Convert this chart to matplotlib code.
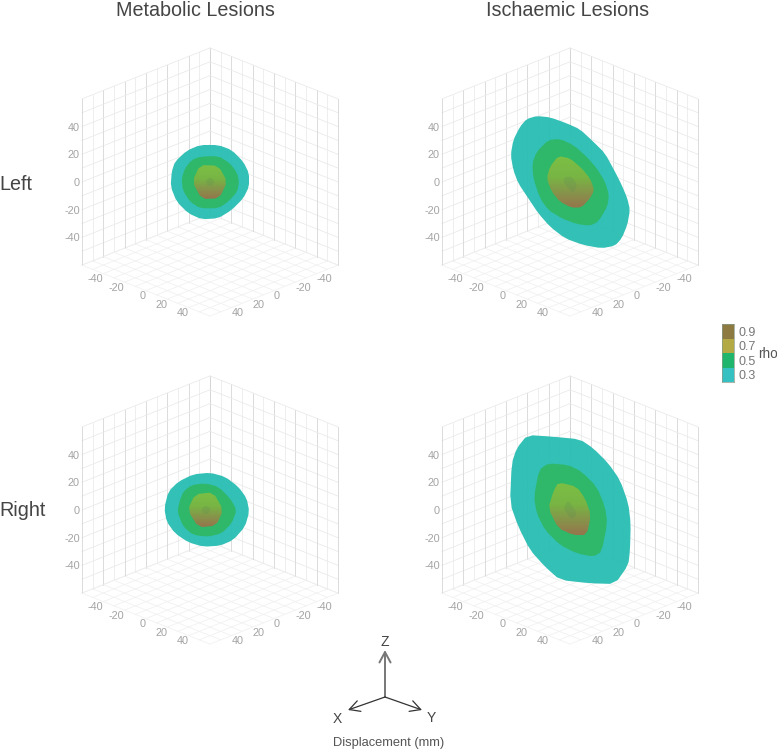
import matplotlib
matplotlib.use('Agg')
import matplotlib.pyplot as plt
import numpy as np
from matplotlib.colors import LinearSegmentedColormap
from matplotlib.patches import Polygon

plt.rcParams['font.family'] = ['Liberation Sans', 'DejaVu Sans']

W, H = 777, 751

# shell outlines, in view plane units
met_left_outer = [(-10,37),(8.3,37),(21.7,32),(33.3,20.3),(39,8.7),(39,-4.7),(33.3,-16.3),(21.7,-28),(8.3,-36.3),(-8.3,-37.3),(-21.7,-31.3),(-33.3,-19.7),(-39.3,-4.7),(-38.3,10.3),(-35,20.3),(-23.3,31.3)]
met_left_mid = [(-10,25.3),(8.3,26),(20,18.7),(27.3,8.7),(29,0.3),(27.3,-9.7),(18.3,-19.7),(8.3,-26.3),(-10,-26.3),(-20,-19.7),(-27.3,-8),(-28.3,3.7),(-25,13.7),(-18.3,22)]
met_left_inner = [(-10,17),(8.3,16.3),(17.3,0.3),(9.3,-16.3),(-8.3,-17),(-17.7,0.3)]
met_left_core = [(-4.5,0),(-2,4),(2,4),(4.5,0),(2,-4),(-2,-4)]

isc_left_outer = [(-33.3,66),(-20,64.7),(-3.3,58.7),(10,52.7),(23.3,40.3),(35,28.7),(45,10.3),(51.7,-3),(57.3,-16.3),(60,-28),(57.3,-43),(51.7,-56.3),(45,-63.7),(31.7,-66.3),(13.3,-63),(-5,-56.3),(-20,-44.7),(-31.7,-31.3),(-41.7,-16.3),(-51.7,-1.3),(-56.7,12),(-59.3,27),(-56.7,42),(-50,55.3),(-43.3,63)]
isc_left_mid = [(-21.7,42),(-10,43),(3.3,37),(16.7,25.3),(26.7,13.7),(35,0.3),(39,-13),(37.3,-24.7),(28.3,-39.7),(20,-43.7),(6.7,-42),(-8.3,-36.3),(-21.7,-28),(-30,-16.3),(-36.7,3.7),(-37.7,18.7),(-33.3,30.3)]
isc_left_inner = [(-11.7,26),(0,23.7),(11.7,13.7),(20,3.7),(24.3,-8),(20,-16.3),(11.7,-25.3),(1.7,-25.7),(-10,-19.7),(-18.3,-9.7),(-23.3,3.7),(-20,15.3)]
isc_left_core = [(-5,5.3),(1.7,5.3),(7.3,-3),(3.3,-11.3),(-1.7,-6.3),(-6.7,0.3)]

met_right_outer = [(-16.7,35.7),(0,37.3),(15,33.3),(28.3,23.3),(36.7,11.7),(39.3,-1.7),(35,-16.7),(23.3,-30),(10,-35.7),(-6.7,-36.7),(-21.7,-32.3),(-35,-23.3),(-43.3,-11.7),(-45.7,1.7),(-41.7,18.3),(-31.7,28.3)]
met_right_mid = [(-18.3,25),(-5,26.7),(8.3,23.3),(20,11.7),(26.7,0),(21.7,-13.3),(11.7,-23.3),(-1.7,-26.7),(-16.7,-25),(-26.7,-16.7),(-32.7,-1.7),(-30,10),(-26.7,18.3)]
met_right_inner = [(-15,15.7),(3.3,17.7),(13.3,0),(6,-15.7),(-11.7,-17.3),(-22.3,0)]
met_right_core = [(-8.5,0),(-6,4),(-2,4),(0.5,0),(-2,-4),(-6,-4)]

isc_right_outer = [(-42.7,75),(-16.7,73.3),(10,70.7),(23.3,61.7),(38.3,46.7),(50,30),(58.3,6.7),(60.7,-13.3),(60,-40),(58.3,-55),(45,-74),(20,-73.3),(-10,-70),(-25,-56.7),(-40,-40),(-51.7,-16.7),(-60,6.7),(-58.3,46.7),(-53.3,61.7)]
isc_right_mid = [(-21.7,46.7),(-1.7,45),(11.7,38.3),(26.7,23.3),(35,3.3),(37.3,-13.3),(31.7,-41.7),(23.3,-46.7),(6.7,-43.3),(-10,-35),(-25,-20),(-33.3,-3.3),(-36,13.3),(-31,40)]
isc_right_inner = [(-11.7,27.7),(6.7,23.3),(15,11.7),(21,-5),(16.7,-25),(3.3,-25),(-11.7,-18.3),(-21.7,1.7),(-16.7,18.3)]
isc_right_core = [(-1.7,10),(7.3,-3.3),(1.7,-10),(-6.7,1.7)]

tick_values = [-40, -20, 0, 20, 40]
grid_values = list(range(-60, 61, 10))
rho_levels = [0.3, 0.5, 0.7, 0.9]
rho_colors = ['#35c0c2', '#20b56c', '#b3aa45', '#8c7a40']

inner_cmap = LinearSegmentedColormap.from_list(
    'inner', [(0, '#96754c'), (0.3, '#86954a'), (0.6, '#78b544'), (1, '#7cbf44')])


def project(x, y, z):
    # oblique view used by all four panels
    h = (np.asarray(y) - np.asarray(x)) * 1.067
    v = -(np.asarray(x) + np.asarray(y)) * 0.425 + np.asarray(z) * 1.385
    return h, v


def round_corners(pts):
    # one pass of corner cutting so the outlines are not angular
    pts = np.array(pts)
    nxt = np.roll(pts, -1, axis=0)
    out = np.empty((len(pts) * 2, 2))
    out[0::2] = 0.8 * pts + 0.2 * nxt
    out[1::2] = 0.2 * pts + 0.8 * nxt
    return out


def grid_colour(val):
    return '#d6d6d6' if val % 20 == 0 else '#ebebeb'


def draw_box(ax):
    for g in grid_values:
        # left wall (y=-60)
        ax.plot(*project([g, g], [-60, -60], [-60, 60]), c=grid_colour(g), lw=0.6, zorder=1)
        ax.plot(*project([-60, 60], [-60, -60], [g, g]), c='#e9e9e9', lw=0.55, zorder=1)
        # right wall (x=-60)
        ax.plot(*project([-60, -60], [g, g], [-60, 60]), c=grid_colour(g), lw=0.6, zorder=1)
        ax.plot(*project([-60, -60], [-60, 60], [g, g]), c='#e9e9e9', lw=0.55, zorder=1)
        # floor
        ax.plot(*project([g, g], [-60, 60], [-60, -60]), c='#f0f0f0', lw=0.55, zorder=1)
        ax.plot(*project([-60, 60], [g, g], [-60, -60]), c='#f0f0f0', lw=0.55, zorder=1)
    for t in tick_values:
        lab = str(t)
        h, v = project(60, -60, t)
        ax.text(h - 2, v - 1, lab, ha='right', va='center', fontsize=7.8, color='#a3a3a3')
        h, v = project(60, t, -60)
        ax.text(h, v - 5.5, lab, ha='right', va='center', fontsize=7.8, color='#a3a3a3')
        h, v = project(t, 60, -60)
        ax.text(h, v - 5.5, lab, ha='left', va='center', fontsize=7.8, color='#a3a3a3')


def draw_shells(ax, outer, mid, inner, core):
    ax.add_patch(Polygon(round_corners(outer), fc='#28bdb2', ec='none', alpha=0.95, zorder=2))
    ax.add_patch(Polygon(round_corners(mid), fc='#2fb866', ec='none', alpha=0.96, zorder=3))
    rounded = round_corners(inner)
    clip = Polygon(rounded, closed=True, transform=ax.transData)
    im = ax.imshow(np.linspace(0, 1, 50).reshape(-1, 1), cmap=inner_cmap, origin='lower', aspect='auto',
                   extent=(rounded[:, 0].min(), rounded[:, 0].max(), rounded[:, 1].min(), rounded[:, 1].max()),
                   zorder=4)
    im.set_clip_path(clip)
    ax.add_patch(Polygon(round_corners(core), fc='#5c8a55', ec='none', alpha=0.22, zorder=5))
    ax.set_xlim(-140, 140)
    ax.set_ylim(-140, 140)


fig = plt.figure(figsize=(W / 100, H / 100), dpi=100)

panels = [
    (210, 182, met_left_outer, met_left_mid, met_left_inner, met_left_core),
    (570, 182, isc_left_outer, isc_left_mid, isc_left_inner, isc_left_core),
    (210, 510, met_right_outer, met_right_mid, met_right_inner, met_right_core),
    (570, 510, isc_right_outer, isc_right_mid, isc_right_inner, isc_right_core),
]
for ox, oy, outer, mid, inner, core in panels:
    ax = fig.add_axes([(ox - 140) / W, 1 - (oy + 140) / H, 280 / W, 280 / H])
    ax.axis('off')
    draw_box(ax)
    draw_shells(ax, outer, mid, inner, core)

# overlay in picture pixels for headings and the axis triad
over = fig.add_axes([0, 0, 1, 1])
over.set_xlim(0, W)
over.set_ylim(H, 0)
over.axis('off')
over.patch.set_alpha(0)

title_col = '#454545'
over.text(195.5, 16.5, 'Metabolic Lesions', ha='center', va='baseline', fontsize=14.2, color=title_col)
over.text(568, 16.5, 'Ischaemic Lesions', ha='center', va='baseline', fontsize=14.2, color=title_col)
over.text(-1, 190, 'Left', ha='left', va='baseline', fontsize=14.2, color=title_col)
over.text(-1, 516, 'Right', ha='left', va='baseline', fontsize=14.2, color=title_col)

for tip, width, col in (((385, 650), 1.4, '#777777'), ((348, 710), 0.9, '#333333'), ((422, 710), 0.9, '#333333')):
    over.annotate('', xy=tip, xytext=(385, 697),
                  arrowprops=dict(arrowstyle='->,head_length=0.75,head_width=0.4', color=col, lw=width,
                                  shrinkA=0, shrinkB=0))
over.text(385, 642, 'Z', ha='center', va='center', fontsize=10, color='#444444')
over.text(337, 719, 'X', ha='center', va='center', fontsize=10, color='#444444')
over.text(431, 718, 'Y', ha='center', va='center', fontsize=10, color='#444444')
over.text(389, 743, 'Displacement (mm)', ha='center', va='center', fontsize=9.3, color='#555555')

# rho colour key
key = fig.add_axes([722 / W, 1 - 382 / H, 12 / W, 58 / H])
key.bar([0] * len(rho_levels), [1] * len(rho_levels), bottom=range(len(rho_levels)), width=1, color=rho_colors)
key.set_xlim(-0.5, 0.5)
key.set_ylim(0, len(rho_levels))
key.set_xticks([])
key.set_yticks([i + 0.5 for i in range(len(rho_levels))], [str(r) for r in rho_levels])
key.yaxis.tick_right()
key.tick_params(axis='y', length=0, pad=3, labelsize=9, labelcolor='#777777')
for s in key.spines.values():
    s.set_edgecolor('#8a9a8a')
    s.set_linewidth(0.5)
over.text(758, 354, 'rho', ha='left', va='center', fontsize=9.8, color='#555555')

fig.savefig('out.png', dpi=100)
